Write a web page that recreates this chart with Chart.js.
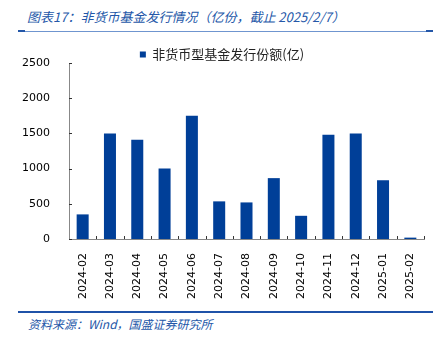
<!DOCTYPE html>
<html>
<head>
<meta charset="utf-8">
<script src="https://cdn.jsdelivr.net/npm/chart.js@4"></script>
<style>
  body { margin: 0; background: #fff; }
  #wrap { position: relative; width: 443px; height: 343px; overflow: hidden; }
  .title { position: absolute; left: 27px; top: 7px; font: italic 13px "Noto Sans CJK SC", sans-serif; color: #2457a8; white-space: nowrap; }
  .topline { position: absolute; left: 18px; top: 31px; width: 415px; height: 1px; background: #6f95cf; }
  .cap { position: absolute; top: 30px; width: 7px; height: 2px; background: #2457a8; }
  .botline { position: absolute; left: 18px; top: 311px; width: 415px; height: 2px; background: #1f52a8; }
  .source { position: absolute; left: 28px; top: 315px; font: italic 12px "Noto Sans CJK SC", sans-serif; color: #2457a8; white-space: nowrap; }
  #box { position: absolute; left: 20px; top: 38px; width: 423px; height: 267px; }
</style>
</head>
<body>
<div id="wrap">
  <div class="title">图表17：非货币基金发行情况（亿份，截止 2025/2/7）</div>
  <div class="topline"></div>
  <div class="cap" style="left:18px"></div>
  <div class="cap" style="left:426px"></div>
  <div id="box"><canvas id="myChart"></canvas></div>
  <div class="botline"></div>
  <div class="source">资料来源：Wind，国盛证券研究所</div>
</div>
<script>
const labels = [
    '2024-02', '2024-03', '2024-04', '2024-05', '2024-06', '2024-07', '2024-08',
    '2024-09', '2024-10', '2024-11', '2024-12', '2025-01', '2025-02'
];

const issued = [350, 1500, 1410, 1000, 1750, 535, 520, 865, 330, 1480, 1500, 835, 20];

const yTicks = [0, 500, 1000, 1500, 2000, 2500];

// little inward tick marks like the original
const innerTicks = {
    id: 'innerTicks',
    afterDraw(chart) {
        const ctx = chart.ctx;
        const x = chart.scales.x, y = chart.scales.y;
        ctx.save();
        ctx.strokeStyle = '#333';
        ctx.lineWidth = 1;
        ctx.beginPath();
        yTicks.forEach(v => {
            const py = Math.round(y.getPixelForValue(v)) + 0.5;
            ctx.moveTo(x.left, py);
            ctx.lineTo(x.left + 3, py);
        });
        for (let i = 1; i <= labels.length; i++) {
            const px = Math.round(x.getPixelForValue(i - 0.5)) + 0.5;
            ctx.moveTo(px, y.bottom);
            ctx.lineTo(px, y.bottom - 3);
        }
        ctx.stroke();
        ctx.restore();
    }
};

const data = {
    labels: labels,
    datasets: [{
        label: '非货币型基金发行份额(亿)',
        backgroundColor: '#003f98',
        borderColor: '#003f98',
        data: issued,
        categoryPercentage: 1,
        barPercentage: 0.44
    }]
};

const config = {
    type: 'bar',
    data: data,
    plugins: [innerTicks],
    options: {
        responsive: true,
        maintainAspectRatio: false,
        animation: false,
        layout: { padding: { left: 0, right: 19, top: 10, bottom: 0 } },
        plugins: {
            legend: {
                maxHeight: 15,
                labels: {
                    font: { family: '"Noto Sans CJK SC"', size: 13 },
                    color: '#222',
                    usePointStyle: true,
                    pointStyle: 'rect',
                    boxWidth: 6,
                    boxHeight: 6,
                    padding: 0
                }
            },
            tooltip: { enabled: false }
        },
        scales: {
            x: {
                grid: { display: false },
                border: { display: true, color: '#888' },
                ticks: {
                    minRotation: 90, maxRotation: 90,
                    padding: 6,
                    color: '#000',
                    font: { family: '"DejaVu Sans"', size: 11 }
                }
            },
            y: {
                min: 0, max: 2500,
                afterFit(scale) { scale.width = 49; },
                grid: { display: false },
                border: { display: true, color: '#888' },
                ticks: {
                    stepSize: 500,
                    padding: 11,
                    color: '#000',
                    font: { family: '"DejaVu Sans"', size: 11 },
                    callback: v => String(v)
                }
            }
        }
    }
};

const myChart = new Chart(document.getElementById('myChart'), config);
</script>
</body>
</html>
